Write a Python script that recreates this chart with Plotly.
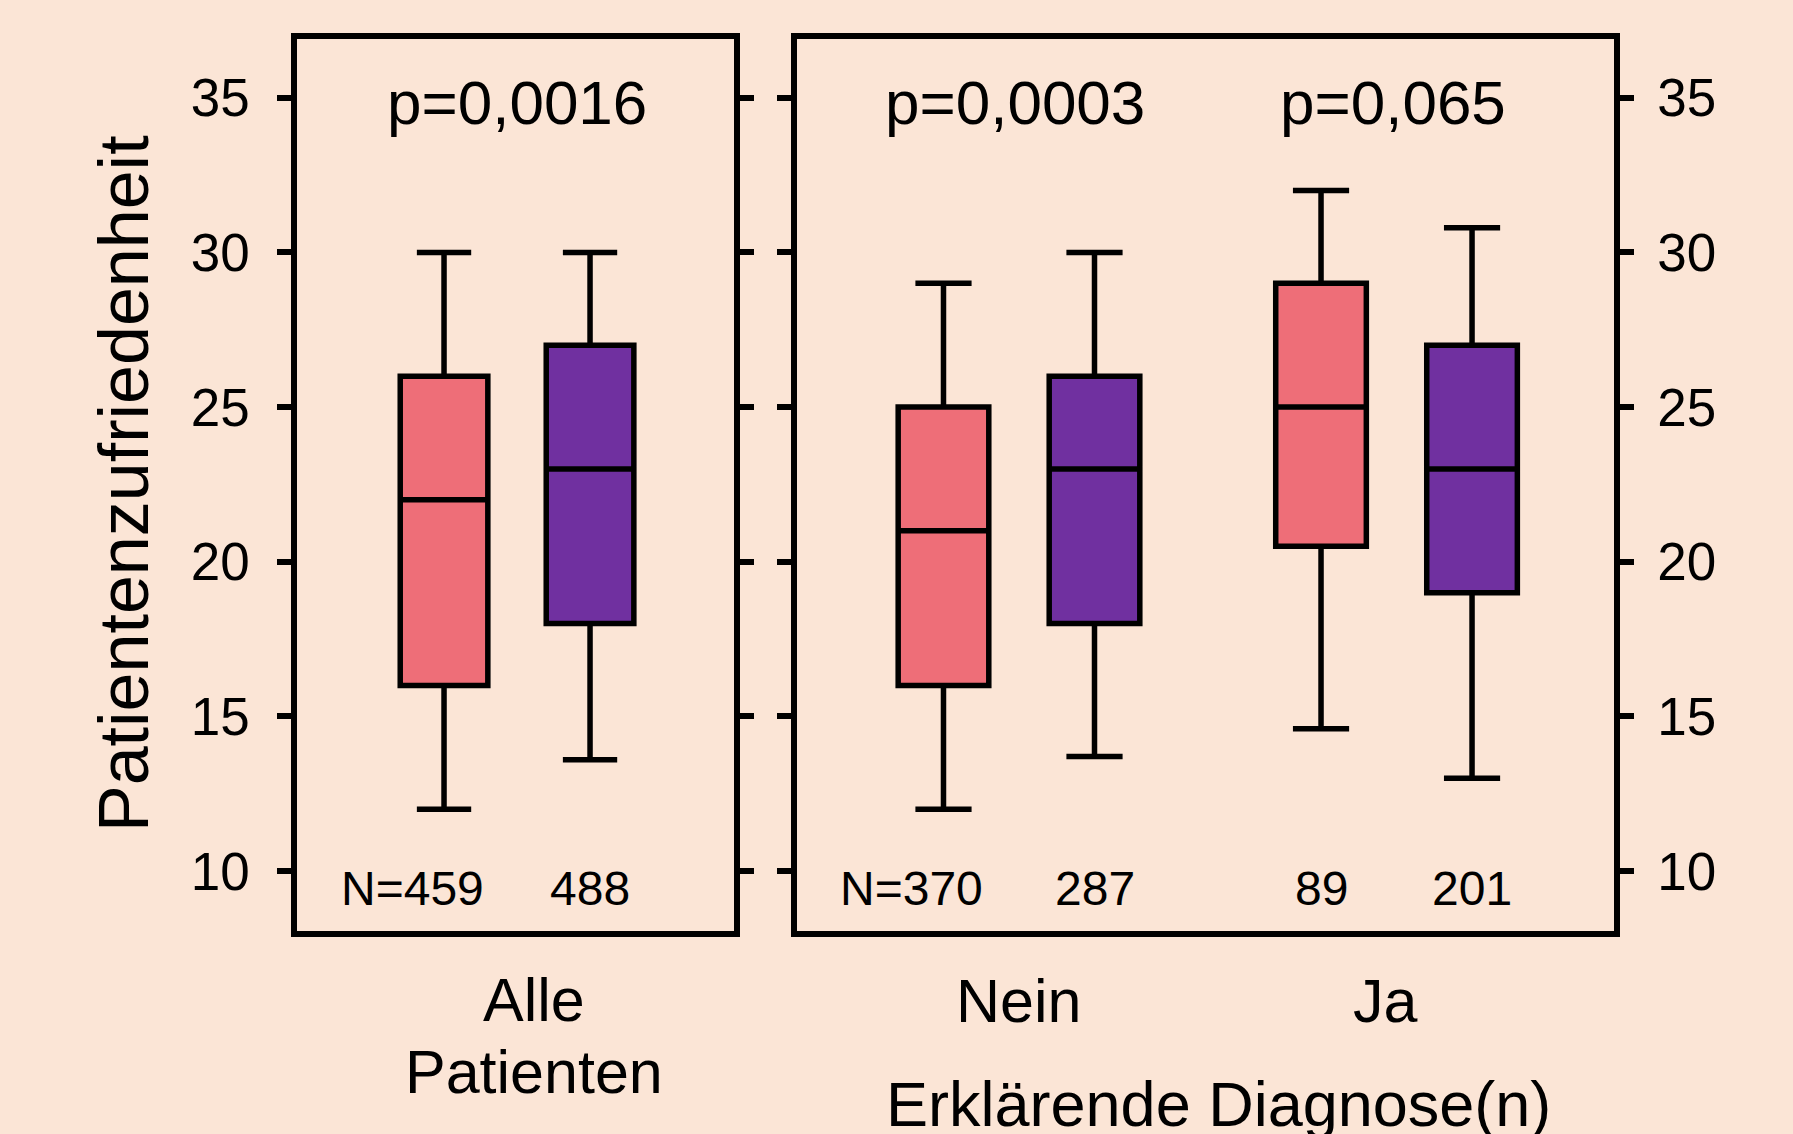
import plotly.graph_objects as go

# ---------------- data ----------------
panel_left_positions = [1, 2]
panel_right_positions = [1, 2, 3.5, 4.5]

# Boxes: Alle (pink, purple), Nein (pink, purple), Ja (pink, purple)
left_lower = [12.0, 13.6]
left_q1 = [16.0, 18.0]
left_median = [22.0, 23.0]
left_q3 = [26.0, 27.0]
left_upper = [30.0, 30.0]
left_n = ["N=459", "488"]

right_lower = [12.0, 13.7, 14.6, 13.0]
right_q1 = [16.0, 18.0, 20.5, 19.0]
right_median = [21.0, 23.0, 25.0, 23.0]
right_q3 = [25.0, 26.0, 29.0, 27.0]
right_upper = [29.0, 30.0, 32.0, 30.8]
right_n = ["N=370", "287", "89", "201"]

left_category = ["Alle", "Patienten"]
right_categories = ["Nein", "Ja"]
left_pvalues = ["p=0,0016"]
right_pvalues = ["p=0,0003", "p=0,065"]
y_ticks = [10, 15, 20, 25, 30, 35]
y_title = "Patientenzufriedenheit"
x_title = "Erklärende Diagnose(n)"

# ---------------- style ----------------
BG = "#FBE5D6"
PINK = "#EE6E78"
PURPLE = "#7030A0"
FONT = "Liberation Sans, Arial, sans-serif"
LW = 5.5
colors_left = [PINK, PURPLE]
colors_right = [PINK, PURPLE, PINK, PURPLE]

W, H = 1793, 1134
fig = go.Figure()

def add_boxes(pos, lo, q1, med, q3, up, cols, xa, ya):
    for i in range(len(pos)):
        fig.add_trace(go.Box(
            x=[pos[i]], q1=[q1[i]], median=[med[i]], q3=[q3[i]],
            lowerfence=[lo[i]], upperfence=[up[i]],
            width=0.6, whiskerwidth=0.62,
            fillcolor=cols[i], line=dict(color="black", width=LW),
            boxpoints=False, hoverinfo="skip", showlegend=False,
            xaxis=xa, yaxis=ya))

add_boxes(panel_left_positions, left_lower, left_q1, left_median, left_q3,
          left_upper, colors_left, "x", "y")
add_boxes(panel_right_positions, right_lower, right_q1, right_median, right_q3,
          right_upper, colors_right, "x2", "y2")

ann = []
n_y = 9.45
n_font = dict(size=48, family=FONT, color="black")
for i, p in enumerate(panel_left_positions):
    ann.append(dict(x=p, y=n_y, xref="x", yref="y", text=left_n[i],
                    xanchor="center", yanchor="middle", showarrow=False, font=n_font,
                    xshift=-32 if left_n[i].startswith("N=") else 0))
for i, p in enumerate(panel_right_positions):
    ann.append(dict(x=p, y=n_y, xref="x2", yref="y2", text=right_n[i],
                    xanchor="center", yanchor="middle", showarrow=False, font=n_font,
                    xshift=-32 if right_n[i].startswith("N=") else 0))

p_y = 34.85
p_font = dict(size=62, family=FONT, color="black")
left_pair_centers = [1.5]
right_pair_centers = [1.5, 4.0]
for i, c in enumerate(left_pair_centers):
    ann.append(dict(x=c, y=p_y, xref="x", yref="y", text=left_pvalues[i],
                    xanchor="center", yanchor="middle", showarrow=False, font=p_font))
for i, c in enumerate(right_pair_centers):
    ann.append(dict(x=c, y=p_y, xref="x2", yref="y2", text=right_pvalues[i],
                    xanchor="center", yanchor="middle", showarrow=False, font=p_font,
                    xshift=-4))

# category labels
cat_font = dict(size=61, family=FONT, color="black")
for j, line in enumerate(left_category):
    ann.append(dict(x=left_pair_centers[0], y=1 - (1000 + 72 * j) / H,
                    xref="x", yref="paper", text=line, showarrow=False, xshift=17,
                    xanchor="center", yanchor="middle", font=cat_font))
cat_shift = [0, -11]
for i, c in enumerate(right_pair_centers):
    ann.append(dict(x=c, y=1 - 1001 / H, xref="x2", yref="paper",
                    text=right_categories[i], showarrow=False, xshift=cat_shift[i],
                    xanchor="center", yanchor="middle", font=cat_font))
ann.append(dict(x=1218 / W, y=1 - 1104 / H, xref="paper", yref="paper",
                text=x_title, showarrow=False, xanchor="center", yanchor="middle",
                font=dict(size=63, family=FONT, color="black")))
ann.append(dict(x=124 / W, y=1 - 484 / H, xref="paper", yref="paper",
                text=y_title, showarrow=False, textangle=-90,
                xanchor="center", yanchor="middle",
                font=dict(size=70, family=FONT, color="black")))

ydom = [1 - 931 / H, 1 - 39 / H]
axis_common = dict(showline=True, linewidth=LW, linecolor="black",
                   showgrid=False, zeroline=False)
yax = dict(axis_common, range=[8.06, 36.9], tickvals=y_ticks, ticks="outside",
           ticklen=14, tickwidth=LW, tickcolor="black", mirror="ticks",
           tickfont=dict(size=53, family=FONT, color="black"), domain=ydom)

fig.update_layout(
    width=W, height=H, autosize=False,
    margin=dict(l=0, r=0, t=0, b=0),
    paper_bgcolor=BG, plot_bgcolor=BG,
    boxmode="overlay",
    xaxis=dict(axis_common, domain=[297 / W, 734 / W], range=[-0.007, 2.986],
               mirror=True, showticklabels=False, ticks="", anchor="y"),
    xaxis2=dict(axis_common, domain=[797 / W, 1614 / W], range=[0.030, 5.440],
                mirror=True, showticklabels=False, ticks="", anchor="y2"),
    yaxis=dict(yax, anchor="x", side="left", ticklabelstandoff=17),
    yaxis2=dict(yax, anchor="x2", side="right", ticklabelstandoff=13),
    annotations=ann,
)

fig.write_html("out.html", config={"displayModeBar": False},
               post_script="document.body.style.margin='0';"
                           "document.body.style.background='" + BG + "';")
